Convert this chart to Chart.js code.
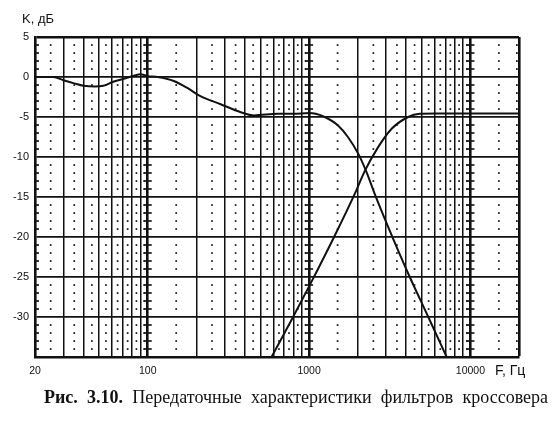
<!DOCTYPE html>
<html>
<head>
<meta charset="utf-8">
<script src="https://cdn.jsdelivr.net/npm/chart.js@4/dist/chart.umd.min.js"></script>
<style>
html, body { margin: 0; padding: 0; background: #fff; }
#wrap { position: relative; width: 559px; height: 427px; }
#chart { position: absolute; left: 0; top: 0; }
.lbl { position: absolute; font-family: "Liberation Sans", Arial, sans-serif; color: #111; white-space: nowrap; }
#caption { position: absolute; left: 44px; top: 387px; width: 504px; font-family: "Liberation Serif", "Times New Roman", serif; font-size: 18px; color: #111; white-space: nowrap; text-align: justify; text-align-last: justify; }
</style>
</head>
<body>
<div id="wrap">
    <canvas id="chart" width="559" height="427"></canvas>
    <div class="lbl" style="left:22px; top:11px; font-size:13px;">K, дБ</div>
    <div class="lbl" style="left:495px; top:362px; font-size:14px;">F, Гц</div>
    <div id="caption"><b>Рис. 3.10.</b> Передаточные характеристики фильтров кроссовера</div>
</div>
<script>
// frequency grid (Hz) and labelled ticks
const gridFreqs = [20, 30, 40, 50, 60, 70, 80, 90,
    100, 200, 300, 400, 500, 600, 700, 800, 900,
    1000, 2000, 3000, 4000, 5000, 6000, 7000, 8000, 9000,
    10000, 20000]
const decadeFreqs = [100, 1000, 10000]
const labelFreqs = [20, 100, 1000, 10000]

// low-frequency channel (bass correction + low-pass)
const lowFreq = [20, 26, 30, 35, 40, 47, 53, 61, 73, 82, 90, 100, 115, 145, 177, 212, 283, 377, 456, 640, 800, 1000, 1100, 1250, 1500, 1740, 2030, 2260, 2550, 3085, 4100, 5480, 7120]
const lowGain = [0, 0, -0.4, -0.8, -1.1, -1.2, -1.1, -0.6, -0.15, 0.15, 0.35, 0.1, 0, -0.5, -1.4, -2.4, -3.4, -4.4, -4.8, -4.6, -4.6, -4.5, -4.6, -5.0, -6.0, -7.5, -9.7, -11.8, -14.6, -18.7, -24.5, -30, -35]

// high-frequency channel (high-pass)
const highFreq = [585, 791, 1028, 1436, 1960, 2208, 2673, 3237, 4113, 4850, 6000, 10000, 20000]
const highGain = [-35, -30.1, -25.7, -19.9, -14.2, -11.8, -8.8, -6.5, -5.0, -4.6, -4.55, -4.55, -4.55]

// minor dotted columns between grid lines
const minorFreqs = []
;[10, 100, 1000, 10000].forEach(dec => {
    for (let m = 1; m <= 9; m++) {
        const f = (m + 0.5) * dec
        if (f > 20 && f < 20000) minorFreqs.push(f)
    }
})
const minorDb = []
for (let d = -34; d <= 4; d++) {
    if (d % 5 != 0) minorDb.push(d)
}

const toPoints = (xs, ys) => xs.map((x, i) => ({ x: x, y: ys[i] }))

const gridDecor = {
    id: "gridDecor",
    beforeDatasetsDraw(chart) {
        const ctx = chart.ctx
        const xs = chart.scales.x
        const ys = chart.scales.y
        const area = chart.chartArea
        ctx.save()
        ctx.fillStyle = "#111"
        ctx.strokeStyle = "#111"
        minorFreqs.forEach(f => {
            const px = xs.getPixelForValue(f)
            minorDb.forEach(d => {
                const py = ys.getPixelForValue(d)
                ctx.fillRect(px - 0.8, py - 0.8, 1.7, 1.7)
            })
        })
        ctx.lineWidth = 1.6
        decadeFreqs.forEach(f => {
            const px = xs.getPixelForValue(f)
            minorDb.forEach(d => {
                const py = ys.getPixelForValue(d)
                ctx.beginPath()
                ctx.moveTo(px - 4, py)
                ctx.lineTo(px + 4, py)
                ctx.stroke()
            })
        })
        minorDb.forEach(d => {
            const py = ys.getPixelForValue(d)
            ctx.beginPath()
            ctx.moveTo(area.left, py)
            ctx.lineTo(area.left + 4, py)
            ctx.stroke()
            ctx.fillRect(area.right - 3, py - 0.8, 1.7, 1.7)
        })
        ctx.restore()
    }
}

new Chart(document.getElementById("chart"), {
    type: "line",
    data: {
        datasets: [{
            data: toPoints(lowFreq, lowGain),
            borderColor: "#111",
            borderWidth: 2,
            pointRadius: 0,
            cubicInterpolationMode: "monotone"
        }, {
            data: toPoints(highFreq, highGain),
            borderColor: "#111",
            borderWidth: 2,
            pointRadius: 0,
            cubicInterpolationMode: "monotone"
        }]
    },
    options: {
        responsive: false,
        animation: false,
        layout: {
            padding: { top: 37, right: 40, left: 0, bottom: 0 }
        },
        plugins: {
            legend: { display: false },
            tooltip: { enabled: false }
        },
        scales: {
            x: {
                type: "logarithmic",
                min: 20,
                max: 20000,
                afterBuildTicks: scale => {
                    scale.ticks = gridFreqs.map(v => ({ value: v }))
                },
                afterFit: scale => { scale.height = 70 },
                grid: {
                    color: "#111",
                    drawTicks: false,
                    lineWidth: c => (c.tick && (decadeFreqs.includes(c.tick.value) || c.tick.value == 20000)) ? 2.6 : 1.5
                },
                border: { display: true, color: "#111", width: 2.6 },
                ticks: {
                    autoSkip: false,
                    maxRotation: 0,
                    padding: 8,
                    color: "#111",
                    font: { family: "Liberation Sans", size: 10.5 },
                    callback: v => labelFreqs.includes(v) ? String(v) : ""
                }
            },
            y: {
                min: -35,
                max: 5,
                afterFit: scale => { scale.width = 35 },
                grid: {
                    color: "#111",
                    drawTicks: false,
                    lineWidth: c => (c.tick && c.tick.value == 5) ? 2.6 : 1.7
                },
                border: { display: true, color: "#111", width: 2.6 },
                ticks: {
                    stepSize: 5,
                    padding: 6,
                    color: "#111",
                    font: { family: "Liberation Sans", size: 11 },
                    callback: v => v == -35 ? "" : String(v)
                }
            }
        }
    },
    plugins: [gridDecor]
})
</script>
</body>
</html>
